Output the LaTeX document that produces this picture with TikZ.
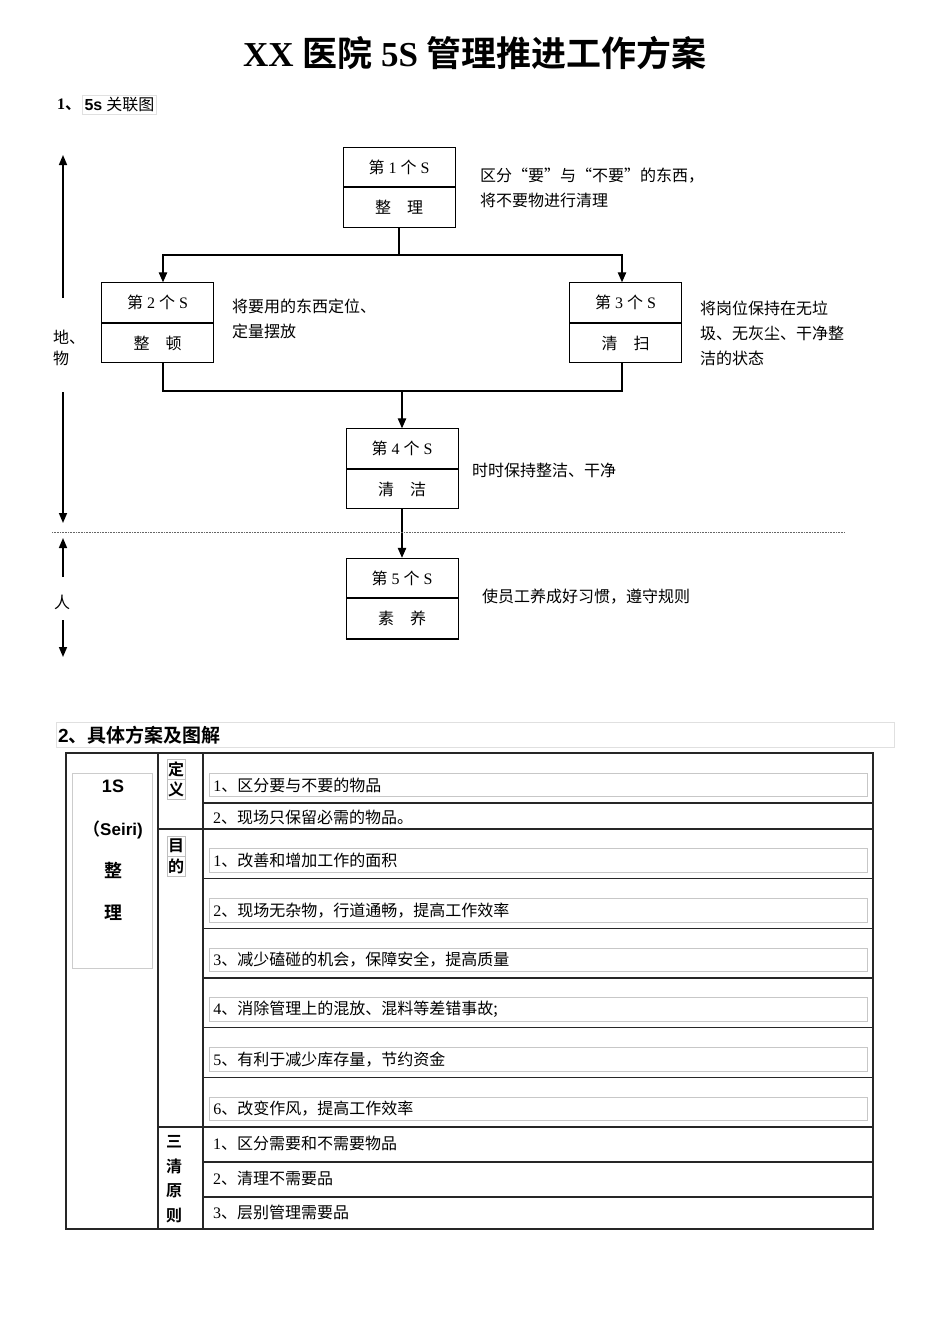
\documentclass[tikz,border=0pt]{standalone}
\usepackage{fontspec}
\setmainfont{Liberation Serif}
\setsansfont{Liberation Sans}
\newfontfamily\cjk{Noto Sans CJK SC}[BoldFont={Noto Sans CJK SC Bold}]
\usetikzlibrary{positioning,arrows.meta}
\newcommand{\sname}[1]{{\cjk 第}\ #1\ {\cjk 个}\ S}

\begin{document}
\begin{tikzpicture}[x=1pt,y=-1pt,
	shalf/.style={draw=black,line width=1pt,minimum width=112,minimum height=39.5,inner sep=0pt,font=\fontsize{16}{20}\selectfont},
	desc/.style={anchor=west,align=left,inner sep=0pt,font=\cjk\fontsize{16}{25}\selectfont},
	sarrow/.style={-{Triangle[length=10pt,width=8.5pt]},line width=1.2pt},
	axis/.style={-{Triangle[length=10pt,width=8pt]},line width=1.5pt},
	link/.style={line width=1.2pt},
	cell/.style={anchor=west,inner sep=0pt,font=\fontsize{16}{20}\selectfont},
	rowbox/.style={anchor=west,draw=black!22,line width=0.8pt,minimum width=658,minimum height=23.5,text width=650,inner sep=4pt,align=left,font=\fontsize{16}{20}\selectfont},
	tag/.style={draw=black!25,line width=0.6pt,inner sep=0.6pt,minimum width=18,minimum height=20,font=\cjk\bfseries\fontsize{16}{18}\selectfont},
	rule/.style={line width=1.2pt,black!85}]
	\useasboundingbox (0,0) rectangle (950,1344);

	%title
	\node (title) at (475,53) {\bfseries\fontsize{35}{40}\selectfont XX {\cjk 医院} 5S {\cjk 管理推进工作方案}};
	\node[anchor=west,inner sep=0pt] (h1) at (57,105) {\bfseries\fontsize{16}{20}\selectfont 1{\cjk 、}};
	\node[right=1pt of h1,draw=black!12,inner sep=2pt,font=\fontsize{16}{20}\selectfont] (h1x) {\textbf{\sffamily 5s} {\cjk 关联图}};

	%boxes
	\node[shalf] (t1) at (399,167) {\sname{1}};
	\node[shalf,below=0pt of t1] (b1) {\cjk 整\hspace{1em}理};
	\node[shalf] (t2) at (157.5,302.5) {\sname{2}};
	\node[shalf,below=0pt of t2] (b2) {\cjk 整\hspace{1em}顿};
	\node[shalf] (t3) at (625.5,302.5) {\sname{3}};
	\node[shalf,below=0pt of t3] (b3) {\cjk 清\hspace{1em}扫};
	\node[shalf] (t4) at (402,448.5) {\sname{4}};
	\node[shalf,below=0pt of t4] (b4) {\cjk 清\hspace{1em}洁};
	\node[shalf] (t5) at (402,578) {\sname{5}};
	\node[shalf,below=0pt of t5] (b5) {\cjk 素\hspace{1em}养};
	\draw[line width=2pt] (b5.south west) -- (b5.south east);

	%notes
	\node[desc] (d1) at (480,187.5) {区分“要”与“不要”的东西，\\将不要物进行清理};
	\node[desc] (d2) at (232,318.5) {将要用的东西定位、\\定量摆放};
	\node[desc] (d3) at (700,333) {将岗位保持在无垃\\圾、无灰尘、干净整\\洁的状态};
	\node[desc] (d4) at (472,470) {时时保持整洁、干净};
	\node[desc] (d5) at (482,597) {使员工养成好习惯，遵守规则};

	%edges
	\coordinate (j1) at (399,255);
	\coordinate (j2) at (402,391);
	\draw[link] (b1.south) -- (j1);
	\draw[sarrow] (j1) -| ([xshift=5.5]t2.north);
	\draw[sarrow] (j1) -| ([xshift=-3.5]t3.north);
	\draw[link] ([xshift=5.5]b2.south) |- (j2);
	\draw[link] ([xshift=-3.5]b3.south) |- (j2);
	\draw[sarrow] (j2) -- (t4.north);
	\draw[sarrow] (b4.south) -- (t5.north);

	%left axis
	\node[anchor=west,align=left,inner sep=0pt,font=\cjk\fontsize{16}{21}\selectfont] (wu) at (53,347.5) {地、\\物};
	\node[inner sep=0pt,font=\cjk\fontsize{16}{20}\selectfont] (ren) at (62,602) {人};
	\coordinate (a0) at (63,155);
	\coordinate (a1) at (63,298);
	\coordinate (a2) at (63,392);
	\coordinate (a3) at (63,523);
	\coordinate (a4) at (63,577);
	\coordinate (a5) at (63,538);
	\coordinate (a6) at (63,620);
	\coordinate (a7) at (63,657);
	\draw[axis] (a1) -- (a0);
	\draw[axis] (a2) -- (a3);
	\draw[axis] (a4) -- (a5);
	\draw[axis] (a6) -- (a7);
	\draw[densely dotted,black!60,line width=0.6pt] (52,532) -- (845,532);

	%table
	\draw[black!12,line width=0.8pt] (56,722) rectangle (894,747);
	\node[anchor=west,inner sep=0pt] (h2) at (58,735) {\bfseries\fontsize{19}{22}\selectfont{\sffamily 2}{\cjk 、具体方案及图解}};
	\draw[rule] (66,753) rectangle (873,1229);
	\draw[rule] (158,753) -- (158,1229);
	\draw[rule] (203,753) -- (203,1229);
	\draw[rule] (203,803) -- (873,803);
	\draw[rule] (158,829) -- (873,829);
	\foreach \k in {1,...,5}
		\draw[rule] (203,{829+\k*49.67}) -- (873,{829+\k*49.67});
	\draw[rule] (158,1127) -- (873,1127);
	\draw[rule] (203,1162) -- (873,1162);
	\draw[rule] (203,1197) -- (873,1197);

	%first column
	\draw[black!20,line width=0.8pt] (72,773) rectangle (152,968);
	\node[font=\sffamily\bfseries\fontsize{18}{20}\selectfont] (c1) at (113,786) {1S};
	\node[font=\sffamily\bfseries\fontsize{17}{20}\selectfont] (c2) at (113,830) {{\cjk （}Seiri)};
	\node[font=\cjk\bfseries\fontsize{18}{20}\selectfont] (c3) at (113,870) {整};
	\node[font=\cjk\bfseries\fontsize{18}{20}\selectfont] (c4) at (113,913) {理};

	%second column
	\node[tag] (g1) at (176,769) {定};
	\node[tag,below=0pt of g1] (g2) {义};
	\node[tag] (g3) at (176,846) {目};
	\node[tag,below=0pt of g3] (g4) {的};
	\foreach \c [count=\k] in {三,清,原,则}
		\node[inner sep=0pt,font=\cjk\bfseries\fontsize{16}{18}\selectfont] (p\k) at (174,{1142+(\k-1)*24.5}) {\c};

	%third column
	\node[rowbox] (r1) at (209,785) {1\cjk 、区分要与不要的物品};
	\node[cell] (r2) at (213,817) {2\cjk 、现场只保留必需的物品。};
	\foreach \t [count=\k] in {改善和增加工作的面积,现场无杂物，行道通畅，提高工作效率,减少磕碰的机会，保障安全，提高质量,消除管理上的混放、混料等差错事故;,有利于减少库存量，节约资金,改变作风，提高工作效率}
		\node[rowbox] (m\k) at (209,{829+(\k-1)*49.67+31.5}) {\k\cjk 、\t};
	\node[cell] (q1) at (213,1143) {1\cjk 、区分需要和不需要物品};
	\node[cell] (q2) at (213,1178) {2\cjk 、清理不需要品};
	\node[cell] (q3) at (213,1212) {3\cjk 、层别管理需要品};

\end{tikzpicture}
\end{document}
